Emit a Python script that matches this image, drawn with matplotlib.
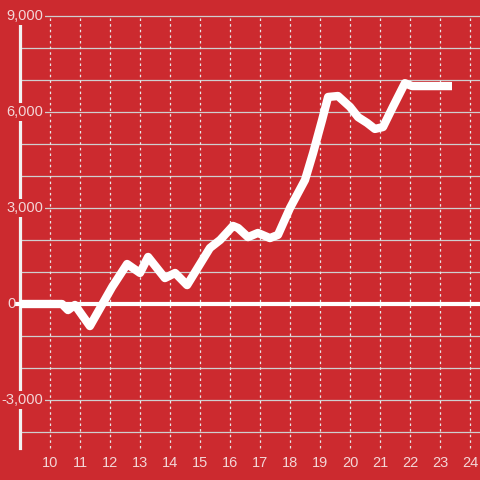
import matplotlib.pyplot as plt

# hour of day vs running value
hours = [9.0, 10.4, 10.6, 10.83, 11.33, 12.07, 12.57, 13.0, 13.27, 13.83,
         14.17, 14.57, 15.33, 15.67, 16.1, 16.27, 16.6, 16.93, 17.33, 17.6,
         18.0, 18.5, 18.77, 19.07, 19.27, 19.6, 20.0, 20.27, 20.57, 20.83,
         21.1, 21.43, 21.83, 22.07, 23.4]
values = [0, 0, -190, -30, -690, 530, 1250, 970, 1470, 810,
          970, 590, 1750, 2000, 2440, 2375, 2090, 2220, 2060, 2160,
          3000, 3875, 4720, 5750, 6470, 6500, 6160, 5840, 5660, 5470,
          5530, 6160, 6900, 6810, 6810]

x_ticks = list(range(10, 25))
y_grid = list(range(-4000, 10000, 1000))
y_labels = [9000, 6000, 3000, -3000]

bg = "#cc2a2f"
txt = "#f3d6d7"

fig = plt.figure(figsize=(4.8, 4.8), dpi=100)
fig.patch.set_facecolor(bg)
ax = fig.add_axes([0, 0, 1, 1])
ax.set_facecolor(bg)
x_left = 9 - 20 / 30
x_right = x_left + 16
ax.set_xlim(x_left, x_right)
ax.set_ylim(-5500, 9500)
ax.axis("off")

for y in y_grid:
    ax.plot([9, x_right], [y, y], color="#cfcfcf", lw=0.9, zorder=1)
for x in x_ticks:
    ax.plot([x, x], [-4500, 9000], color="#e8e8e8", lw=0.9,
            ls=(0, (2, 2.5)), zorder=1)

ax.plot([9, 9], [-4500, 9000], color="#f2f2f2", lw=2.3, zorder=2)
ax.plot([x_left + 17 / 30, x_right], [0, 0], color="white", lw=3, zorder=2)

ax.plot(hours, values, color="white", lw=6, solid_joinstyle="round",
        solid_capstyle="butt", zorder=3)

for y in y_labels:
    ax.text(9.77, y, f"{y:,}", ha="right", va="center", color=txt,
            fontsize=10.5, family="Liberation Sans", zorder=4,
            bbox=dict(facecolor=bg, edgecolor="none", pad=1.2))
ax.text(x_left + 16 / 30, 0, "0", ha="right", va="center", color=txt,
        fontsize=10.5, family="Liberation Sans", zorder=4)
for x in x_ticks:
    ax.text(x, -4970, str(x), ha="center", va="center", color=txt,
            fontsize=10.5, family="Liberation Sans", zorder=4)

fig.savefig("out.png", dpi=100, facecolor=bg)
